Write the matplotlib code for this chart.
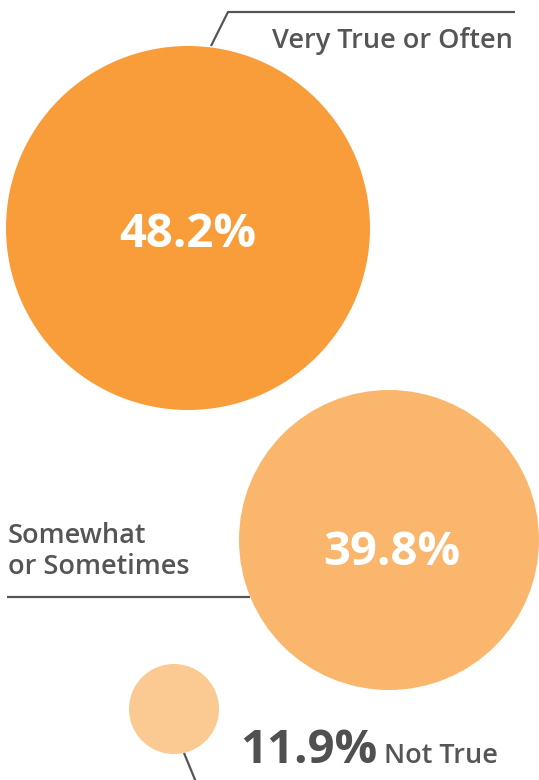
import matplotlib.pyplot as plt
from matplotlib.patches import Circle

# data
labels = ["Very True or Often", "Somewhat\nor Sometimes", "Not True"]
values = [48.2, 39.8, 11.9]
colors = ["#F99D3A", "#FAB66C", "#FBC992"]

# layout (pixel space, y down)
centers = [(188, 228), (389, 540), (174, 709)]
radii = [182, 150, 45]
gray = "#555555"

plt.rcParams["font.family"] = ["Open Sans", "DejaVu Sans"]

fig = plt.figure(figsize=(5.39, 7.8), dpi=100)
ax = fig.add_axes([0, 0, 1, 1])
ax.set_xlim(0, 539)
ax.set_ylim(780, 0)
ax.axis("off")

for (cx, cy), r, c in zip(centers, radii, colors):
    ax.add_patch(Circle((cx, cy), r, color=c, lw=0))

# connector lines
ax.plot([211, 228, 515], [46, 12, 12], color=gray, lw=1.6, solid_capstyle="butt")
ax.plot([7, 250], [597, 597], color=gray, lw=1.6, solid_capstyle="butt")
ax.plot([184, 196], [753, 782], color=gray, lw=1.6, solid_capstyle="butt")

# labels
ax.text(513, 48, labels[0], color=gray, fontsize=19.5, fontweight="semibold",
        ha="right", va="baseline")
ax.text(8, 574, labels[1], color=gray, fontsize=19.5, fontweight="semibold",
        ha="left", va="baseline", linespacing=1.15)
ax.text(498, 763, labels[2], color=gray, fontsize=19.5, fontweight="semibold",
        ha="right", va="baseline")

# values
ax.text(188, 247, f"{values[0]}%", color="white", fontsize=34, fontweight="bold",
        ha="center", va="baseline")
ax.text(392, 565, f"{values[1]}%", color="white", fontsize=34, fontweight="bold",
        ha="center", va="baseline")
ax.text(377, 763, f"{values[2]}%", color="#505050", fontsize=34, fontweight="bold",
        ha="right", va="baseline")

fig.savefig("out.png", dpi=100)
